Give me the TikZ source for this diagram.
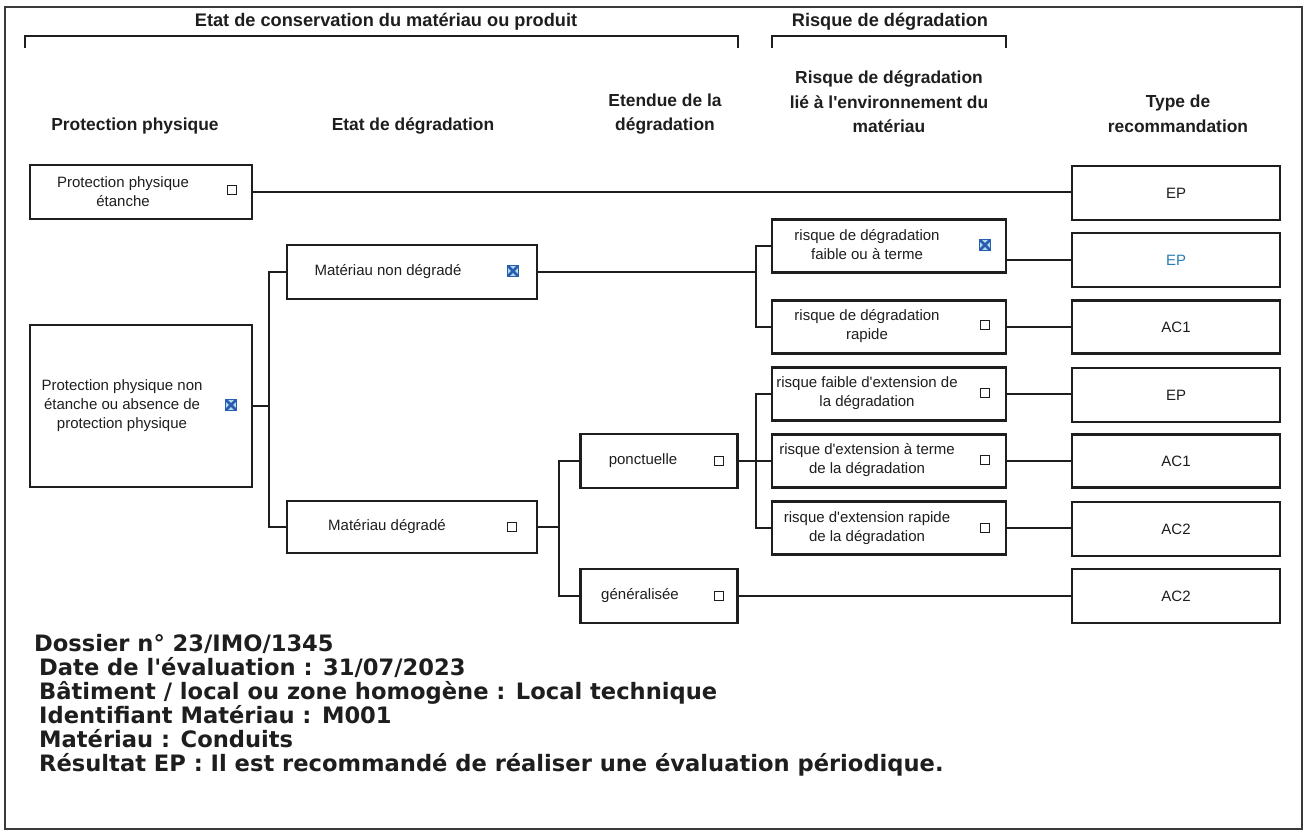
\documentclass[tikz,border=0pt]{standalone}
\usepackage{fontspec}
\setmainfont{Liberation Sans}
\newfontfamily\arialf{Liberation Sans}
\newfontfamily\vfont{DejaVu Sans}
\definecolor{ink}{HTML}{1E1E1E}
\definecolor{frame}{HTML}{3A3A3A}
\definecolor{xblue}{HTML}{2A5DB0}
\definecolor{xcyan}{HTML}{7CC8E4}
\definecolor{epblue}{HTML}{2B7CB5}
\tikzset{
  box/.style={draw=ink, line width=2.2pt, rectangle, inner sep=0pt},
  btxt/.style={font=\arialf\fontsize{15}{19}\selectfont, align=center, inner sep=0pt, text=ink},
  htxt/.style={font=\arialf\bfseries\fontsize{17.4}{24.5}\selectfont, align=center, inner sep=0pt, text=ink},
  ttxt/.style={font=\arialf\bfseries\fontsize{18.2}{24.5}\selectfont, align=center, inner sep=0pt, text=ink},
  cb/.style={draw=ink, line width=1pt, minimum size=9pt, inner sep=0pt, rectangle},
  cbx/.style={draw=xblue, fill=xcyan!60, line width=1.2pt, minimum size=11.5pt, inner sep=0pt, rectangle,
    path picture={\draw[xblue, line width=2.6pt] (path picture bounding box.north west) -- (path picture bounding box.south east)
      (path picture bounding box.north east) -- (path picture bounding box.south west);}},
  wire/.style={draw=ink, line width=2.2pt},
  brk/.style={draw=ink, line width=2pt},
}
\begin{document}
\begin{tikzpicture}[x=1pt,y=-1pt]
\fill[white] (0,0) rectangle (1308,831);
\useasboundingbox (0,0) rectangle (1308,831);
\draw[frame, line width=2.2pt] (5,7) rectangle (1302,829);

% header titles and brackets
\node[ttxt] (h-cons) at (386,22) {Etat de conservation du matériau ou produit};
\node[ttxt] (h-risk) at (890,22) {Risque de dégradation};
\draw[brk] (25,48) -- (25,36) -- (738,36) -- (738,48);
\draw[brk] (772,48) -- (772,36) -- (1006,36) -- (1006,48);

% column headers
\node[htxt] (c1) at (135,126) {Protection physique};
\node[htxt] (c2) at (413,126) {Etat de dégradation};
\node[htxt] (c3) at (665,114) {Etendue de la\\dégradation};
\node[htxt] (c4) at (889,102) {Risque de dégradation\\lié à l'environnement du\\matériau};
\node[htxt] (c5) at (1178,114) {Type de\\recommandation};

% boxes
\node[box, minimum width=222pt, minimum height=54pt] (ppe) at (141,192) {};
\node[box, minimum width=222pt, minimum height=162pt] (ppne) at (141,406) {};
\node[box, minimum width=250pt, minimum height=54pt] (mnd) at (412,272) {};
\node[box, minimum width=250pt, minimum height=52pt] (md) at (412,527) {};
\node[box, minimum width=157pt, minimum height=54pt] (ponc) at (659,461) {};
\node[box, minimum width=157pt, minimum height=54pt] (gen) at (659,596) {};
\node[box, minimum width=234pt, minimum height=53pt] (r1) at (889,246) {};
\node[box, minimum width=234pt, minimum height=53pt] (r2) at (889,327) {};
\node[box, minimum width=234pt, minimum height=53pt] (r3) at (889,394) {};
\node[box, minimum width=234pt, minimum height=53pt] (r4) at (889,461) {};
\node[box, minimum width=234pt, minimum height=53pt] (r5) at (889,528) {};
\node[box, minimum width=208pt, minimum height=54pt] (t1) at (1176,193) {};
\node[box, minimum width=208pt, minimum height=54pt] (t2) at (1176,260) {};
\node[box, minimum width=208pt, minimum height=53pt] (t3) at (1176,327) {};
\node[box, minimum width=208pt, minimum height=54pt] (t4) at (1176,395) {};
\node[box, minimum width=208pt, minimum height=53pt] (t5) at (1176,461) {};
\node[box, minimum width=208pt, minimum height=54pt] (t6) at (1176,529) {};
\node[box, minimum width=208pt, minimum height=54pt] (t7) at (1176,596) {};

% box texts
\node[btxt] (ppe-t) at (123,192) {Protection physique\\étanche};
\node[btxt] (ppne-t) at (122,406) {Protection physique non\\étanche ou absence de\\protection physique};
\node[btxt] (mnd-t) at (388,272) {Matériau non dégradé};
\node[btxt] (md-t) at (387,527) {Matériau dégradé};
\node[btxt] (ponc-t) at (643,461) {ponctuelle};
\node[btxt] (gen-t) at (640,596) {généralisée};
\node[btxt] (r1-t) at (867,245) {risque de dégradation\\faible ou à terme};
\node[btxt] (r2-t) at (867,326) {risque de dégradation\\rapide};
\node[btxt] (r3-t) at (867,393) {risque faible d'extension de\\la dégradation};
\node[btxt] (r4-t) at (867,460) {risque d'extension à terme\\de la dégradation};
\node[btxt] (r5-t) at (867,528) {risque d'extension rapide\\de la dégradation};
\node[btxt] (t1-t) at (t1) {EP};
\node[btxt, text=epblue] (t2-t) at (t2) {EP};
\node[btxt] (t3-t) at (t3) {AC1};
\node[btxt] (t4-t) at (t4) {EP};
\node[btxt] (t5-t) at (t5) {AC1};
\node[btxt] (t6-t) at (t6) {AC2};
\node[btxt] (t7-t) at (t7) {AC2};

% check boxes
\node[cb] (ppe-c) at (232,190) {};
\node[cbx] (ppne-c) at (231,405) {};
\node[cbx] (mnd-c) at (513,271) {};
\node[cb] (md-c) at (512,527) {};
\node[cb] (ponc-c) at (719,461) {};
\node[cb] (gen-c) at (719,596) {};
\node[cbx] (r1-c) at (985,245) {};
\node[cb] (r2-c) at (985,325) {};
\node[cb] (r3-c) at (985,393) {};
\node[cb] (r4-c) at (985,460) {};
\node[cb] (r5-c) at (985,528) {};

% bus coordinates
\coordinate (b1) at (269,0);
\coordinate (b2) at (756,0);
\coordinate (b3) at (559,0);

% connectors
\draw[wire] (ppe.east) -- (ppe.east -| t1.west);
\draw[wire] (ppne.east) -- (ppne.east -| b1);
\draw[wire] (mnd.west) -- (mnd.west -| b1) |- (md.west);
\draw[wire] (mnd.east) -- (mnd.east -| b2);
\draw[wire] (r1.west) -- (r1.west -| b2) |- (r2.west);
\draw[wire] (md.east) -- (md.east -| b3);
\draw[wire] (ponc.west) -- (ponc.west -| b3) |- (gen.west);
\draw[wire] (ponc.east) -- (ponc.east -| b2);
\draw[wire] (r3.west) -- (r3.west -| b2) |- (r5.west);
\draw[wire] (r4.west) -- (r4.west -| b2);
\draw[wire] (t2.west) -- (t2.west -| r1.east);
\draw[wire] (r2.east) -- (r2.east -| t3.west);
\draw[wire] (r3.east) -- (r3.east -| t4.west);
\draw[wire] (r4.east) -- (r4.east -| t5.west);
\draw[wire] (r5.east) -- (r5.east -| t6.west);
\draw[wire] (gen.east) -- (gen.east -| t7.west);

% footer
\node[anchor=west, align=left, inner sep=0pt, text=ink, font=\vfont\bfseries\fontsize{22.6}{24}\selectfont] (info) at (34,705)
{Dossier n° 23/IMO/1345\\
\hspace*{5pt}Date de l'évaluation : 31/07/2023\\
\hspace*{5pt}Bâtiment / local ou zone homogène : Local technique\\
\hspace*{5pt}Identifiant Matériau : M001\\
\hspace*{5pt}Matériau : Conduits\\
\hspace*{5pt}Résultat EP : Il est recommandé de réaliser une évaluation périodique.};
\end{tikzpicture}
\end{document}
